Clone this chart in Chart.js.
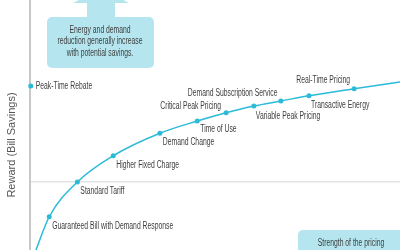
<!DOCTYPE html>
<html>
<head>
<meta charset="utf-8">
<script src="https://cdn.jsdelivr.net/npm/chart.js@4.4.1/dist/chart.umd.min.js"></script>
<style>
  html, body { margin: 0; padding: 0; background: #fff; }
  #wrap { width: 400px; height: 250px; position: relative; }
</style>
</head>
<body>
<div id="wrap"><canvas id="chart" width="400" height="250"></canvas></div>
<script>
// Tarifas ao longo da curva (força do sinal de preço x recompensa)
const tariffNames = [
  'Guaranteed Bill with Demand Response',
  'Standard Tariff',
  'Higher Fixed Charge',
  'Demand Change',
  'Time of Use',
  'Critical Peak Pricing',
  'Demand Subscription Service',
  'Variable Peak Pricing',
  'Transactive Energy',
  'Real-Time Pricing'
];
const strengthValues = [5.2, 12.8, 22.5, 35.1, 45.2, 53.0, 60.5, 67.8, 75.4, 87.6];
const rewardValues = [13.3, 27.2, 37.7, 46.7, 51.6, 54.9, 57.6, 59.6, 61.7, 64.5];

// Pontas da curva (sem marcador)
const curveStart = { x: 1.6, y: 0 };
const curveEnd = { x: 100, y: 67.2 };

// Ponto isolado no eixo
const rebateName = 'Peak-Time Rebate';
const rebatePoint = { x: 0.2, y: 65.6 };

// Linha de grade horizontal
const gridValues = [27.2];

const axisTitle = 'Reward (Bill Savings)';
const topNote = ['Energy and demand', 'reduction generally increase', 'with potential savings.'];
const bottomNote = 'Strength of the pricing';

// Posição dos rótulos em relação ao ponto: [dx, dy, align]
const labelOffsets = [
  [3, 9, 'left'], [3, 9, 'left'], [3, 9, 'left'], [3, 9, 'left'], [3, 8, 'left'],
  [-5, -7, 'right'], [-66, -13, 'left'], [-25, 15, 'left'], [2, 9, 'left'], [-4, -9, 'right']
];

const lineColor = '#2bbbd8';
const boxColor = '#b5e6ef';
const textColor = '#3d3d3d';
const labelFont = '10px "Liberation Sans", Arial, sans-serif';
const squeeze = 0.68; // fonte condensada

const curvePoints = [curveStart]
  .concat(strengthValues.map((x, i) => ({ x: x, y: rewardValues[i] })))
  .concat([curveEnd]);

// Texto condensado (escala horizontal)
function drawNarrow(ctx, text, x, y, align) {
  const w = ctx.measureText(text).width * squeeze;
  let left = x;
  if (align === 'right') left = x - w;
  if (align === 'center') left = x - w / 2;
  ctx.save();
  ctx.translate(left, y);
  ctx.scale(squeeze, 1);
  ctx.textAlign = 'left';
  ctx.fillText(text, 0, 0);
  ctx.restore();
}

// Desenha as caixas de nota e os rótulos
const decorPlugin = {
  id: 'decor',
  beforeDatasetsDraw(chart) {
    const ctx = chart.ctx;
    ctx.save();
    ctx.fillStyle = boxColor;
    // caixa de cima com seta
    ctx.beginPath();
    ctx.roundRect(47, 17, 107, 51, 5);
    ctx.fill();
    ctx.fillRect(87, 2, 28, 16);
    ctx.beginPath();
    ctx.moveTo(73, 3);
    ctx.lineTo(129, 3);
    ctx.lineTo(101, -12);
    ctx.closePath();
    ctx.fill();
    // caixa de baixo
    ctx.beginPath();
    ctx.roundRect(298, 230, 120, 40, 5);
    ctx.fill();
    ctx.restore();
  },
  afterDatasetsDraw(chart) {
    const ctx = chart.ctx;
    const xs = chart.scales.x;
    const ys = chart.scales.y;
    ctx.save();
    ctx.fillStyle = textColor;
    ctx.font = labelFont;
    ctx.textBaseline = 'middle';

    tariffNames.forEach((name, i) => {
      const px = xs.getPixelForValue(strengthValues[i]);
      const py = ys.getPixelForValue(rewardValues[i]);
      const off = labelOffsets[i];
      drawNarrow(ctx, name, px + off[0], py + off[1], off[2]);
    });

    drawNarrow(ctx, rebateName, xs.getPixelForValue(rebatePoint.x) + 5, ys.getPixelForValue(rebatePoint.y), 'left');

    topNote.forEach((line, i) => drawNarrow(ctx, line, 100, 30 + i * 11.5, 'center'));
    drawNarrow(ctx, bottomNote, 351, 243, 'center');

    // título do eixo y
    ctx.translate(12, 145);
    ctx.rotate(-Math.PI / 2);
    ctx.textAlign = 'center';
    ctx.fillStyle = '#555';
    ctx.font = '11px "Liberation Sans", Arial, sans-serif';
    ctx.fillText(axisTitle, 0, 0);
    ctx.restore();
  }
};

new Chart(document.getElementById('chart'), {
  type: 'scatter',
  data: {
    datasets: [{
      data: curvePoints,
      showLine: true,
      borderColor: lineColor,
      borderWidth: 1.5,
      backgroundColor: lineColor,
      cubicInterpolationMode: 'monotone',
      pointRadius: ctx => (ctx.dataIndex === 0 || ctx.dataIndex === curvePoints.length - 1) ? 0 : 2.5,
      pointBorderWidth: 0,
      clip: false
    }, {
      data: [rebatePoint],
      backgroundColor: lineColor,
      pointRadius: 2.5,
      pointBorderWidth: 0,
      clip: false
    }]
  },
  options: {
    responsive: false,
    animation: false,
    layout: { padding: 0, autoPadding: false },
    plugins: {
      legend: { display: false },
      tooltip: { enabled: false }
    },
    scales: {
      x: {
        type: 'linear',
        min: 0,
        max: 100,
        display: false
      },
      y: {
        type: 'linear',
        min: 0,
        max: 100,
        afterBuildTicks: axis => { axis.ticks = gridValues.map(v => ({ value: v })); },
        afterFit: axis => { axis.width = 30; },
        ticks: { display: false },
        grid: { color: '#e3e3e3', lineWidth: 1.5, drawTicks: false },
        border: { color: '#c8c8c8', width: 2 }
      }
    }
  },
  plugins: [decorPlugin]
});
</script>
</body>
</html>
